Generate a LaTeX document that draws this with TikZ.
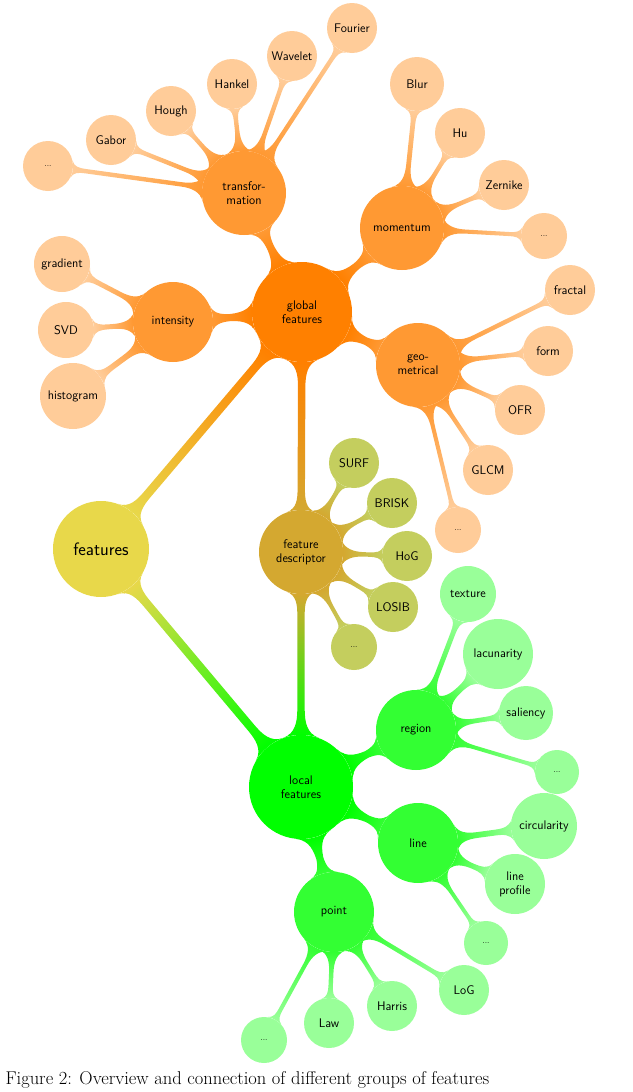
\documentclass[tikz,border=0pt]{standalone}
\usetikzlibrary{mindmap,decorations}
\definecolor{gf}{HTML}{FF8000}
\definecolor{gsub}{HTML}{FF9933}
\definecolor{gleaf}{HTML}{FFCC99}
\definecolor{feat}{HTML}{E8D84A}
\definecolor{fd}{HTML}{D4A830}
\definecolor{fdleaf}{HTML}{C4CE5E}
\definecolor{lf}{HTML}{00FF00}
\definecolor{lsub}{HTML}{33FF33}
\definecolor{lleaf}{HTML}{99FF99}
\begin{document}
\begin{tikzpicture}[x=1pt,y=-1pt,
  c/.style={circle,inner sep=0pt,align=center,font=\sffamily\fontsize{12.5}{14}\selectfont},
  big/.style={c,minimum size=#1},
  lf1/.style={c,minimum size=50pt,fill=gleaf},
  lf2/.style={c,minimum size=50pt,fill=lleaf},
  lf3/.style={c,minimum size=50pt,fill=fdleaf},
  dots/.style={font=\sffamily\fontsize{8}{9}\selectfont}]
\useasboundingbox (0,0) rectangle (632,1092);
\node[big=96pt,fill=feat,font=\sffamily\fontsize{18}{20}\selectfont] (feat) at (101,549) {features};
\node[big=100pt,fill=gf] (gf) at (302,312) {global\\features};
\node[big=84pt,fill=gsub] (tr) at (244,193) {transfor-\\mation};
\node[big=84pt,fill=gsub] (mo) at (402,228) {momentum};
\node[big=80pt,fill=gsub] (in) at (173,322) {intensity};
\node[big=84pt,fill=gsub] (ge) at (418,365) {geo-\\metrical};
\node[big=84pt,fill=fd] (fd) at (301,552) {feature\\descriptor};
\node[big=104pt,fill=lf] (lf) at (301,787) {local\\features};
\node[big=80pt,fill=lsub] (re) at (416,730) {region};
\node[big=80pt,fill=lsub] (li) at (418,843) {line};
\node[big=80pt,fill=lsub] (po) at (334,912) {point};
% leaves
\node[lf1,dots] (t1) at (48,166) {...};
\node[lf1] (t2) at (111,140) {Gabor};
\node[lf1] (t3) at (171,111) {Hough};
\node[lf1] (t4) at (232,84) {Hankel};
\node[lf1] (t5) at (292,56) {Wavelet};
\node[lf1] (t6) at (352,28) {Fourier};
\node[lf1,minimum size=54pt] (m1) at (417,84) {Blur};
\node[lf1] (m2) at (460,133) {Hu};
\node[lf1] (m3) at (504,185) {Zernike};
\node[lf1,dots,minimum size=46pt] (m4) at (544,236) {...};
\node[lf1,minimum size=56pt] (i1) at (62,264) {gradient};
\node[lf1,minimum size=56pt] (i2) at (66,330) {SVD};
\node[lf1,minimum size=66pt] (i3) at (73,396) {histogram};
\node[lf1] (g1) at (570,290) {fractal};
\node[lf1] (g2) at (548,351) {form};
\node[lf1] (g3) at (520,410) {OFR};
\node[lf1] (g4) at (488,470) {GLCM};
\node[lf1,dots,minimum size=46pt] (g5) at (458,530) {...};
\node[lf3] (d1) at (354,463) {SURF};
\node[lf3] (d2) at (392,503) {BRISK};
\node[lf3] (d3) at (407,556) {HoG};
\node[lf3] (d4) at (393,607) {LOSIB};
\node[lf3,dots,minimum size=46pt] (d5) at (354,647) {...};
\node[lf2,minimum size=56pt] (r1) at (468,594) {texture};
\node[lf2,minimum size=70pt] (r2) at (498,654) {lacunarity};
\node[lf2,minimum size=54pt] (r3) at (526,713) {saliency};
\node[lf2,dots,minimum size=44pt] (r4) at (557,772) {...};
\node[lf2,minimum size=66pt] (l1) at (544,826) {circularity};
\node[lf2,minimum size=60pt] (l2) at (515,884) {line\\profile};
\node[lf2,dots,minimum size=44pt] (l3) at (486,943) {...};
\node[lf2] (p1) at (464,990) {LoG};
\node[lf2] (p2) at (392,1006) {Harris};
\node[lf2] (p3) at (329,1023) {Law};
\node[lf2,dots,minimum size=46pt] (p4) at (264,1040) {...};
\begin{scope}[on background layer/.style={}]
\end{scope}
\path (feat) to[circle connection bar switch color=from (feat) to (gf)] (gf);
\path (feat) to[circle connection bar switch color=from (feat) to (lf)] (lf);
\path (gf) to[circle connection bar switch color=from (gf) to (fd)] (fd);
\path (fd) to[circle connection bar switch color=from (fd) to (lf)] (lf);
\foreach \s in {tr,mo,in,ge} \path (gf) to[circle connection bar switch color=from (gf) to (gsub)] (\s);
\foreach \s in {t1,t2,t3,t4,t5,t6} \path (tr) to[circle connection bar switch color=from (gsub) to (gleaf)] (\s);
\foreach \s in {m1,m2,m3,m4} \path (mo) to[circle connection bar switch color=from (gsub) to (gleaf)] (\s);
\foreach \s in {i1,i2,i3} \path (in) to[circle connection bar switch color=from (gsub) to (gleaf)] (\s);
\foreach \s in {g1,g2,g3,g4,g5} \path (ge) to[circle connection bar switch color=from (gsub) to (gleaf)] (\s);
\foreach \s in {d1,d2,d3,d4,d5} \path (fd) to[circle connection bar switch color=from (fd) to (fdleaf)] (\s);
\foreach \s in {re,li,po} \path (lf) to[circle connection bar switch color=from (lf) to (lsub)] (\s);
\foreach \s in {r1,r2,r3,r4} \path (re) to[circle connection bar switch color=from (lsub) to (lleaf)] (\s);
\foreach \s in {l1,l2,l3} \path (li) to[circle connection bar switch color=from (lsub) to (lleaf)] (\s);
\foreach \s in {p1,p2,p3,p4} \path (po) to[circle connection bar switch color=from (lsub) to (lleaf)] (\s);
\node[font=\fontsize{18.5}{20}\selectfont,anchor=west] (cap) at (2,1080) {Figure 2: Overview and connection of different groups of features};
\end{tikzpicture}
\end{document}
